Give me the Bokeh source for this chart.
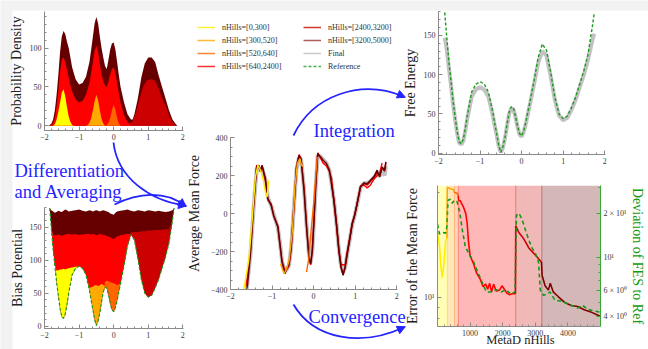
import numpy as np
from bokeh.plotting import figure
from bokeh.models import (Range1d, Legend, LegendItem, BoxAnnotation, Span,
                          Label, Arrow, NormalHead, LogAxis, LogScale, FixedTicker,
                          SingleIntervalTicker)
from bokeh.embed import file_html
from bokeh.resources import INLINE

FONT = "Liberation Serif"
BLUE = "#2424ff"

# ---------------- data ----------------
interval_edges = [0, 300, 520, 640, 2400, 3200, 5000]
interval_labels = ["nHills=[0,300]", "nHills=[300,520]", "nHills=[520,640]",
                   "nHills=[640,2400]", "nHills=[2400,3200]", "nHills=[3200,5000]"]
series_colors = ["#ffee00", "#ffaa00", "#ff6600", "#ff0000", "#cc0000", "#660000"]

# probability density layers (cumulative tops)
pd_maroon_x = [-1.9, -1.85, -1.8, -1.75, -1.7, -1.65, -1.6, -1.55, -1.5, -1.45, -1.4, -1.35, -1.3, -1.25,
               -1.2, -1.1, -1.0, -0.9, -0.8, -0.7, -0.65, -0.6, -0.55, -0.5, -0.45, -0.4, -0.35, -0.3,
               -0.25, -0.2, -0.15, -0.1, -0.05, 0.0, 0.05, 0.1, 0.15, 0.2, 0.3, 0.4, 0.5, 0.55, 0.6,
               0.7, 0.8, 0.9, 1.0, 1.1, 1.2, 1.3, 1.4, 1.5, 1.6, 1.7, 1.8, 1.85]
pd_maroon = [0, 1, 3, 8, 20, 40, 65, 95, 115, 122, 118, 108, 100, 88,
             75, 60, 53, 55, 63, 82, 98, 115, 132, 140, 132, 115, 100, 88,
             77, 73, 85, 98, 106, 107, 98, 82, 65, 50, 30, 15, 8, 8, 15,
             35, 62, 80, 88, 88, 82, 65, 50, 35, 20, 8, 2, 0]
pd_red_x = [-1.85, -1.8, -1.75, -1.7, -1.65, -1.6, -1.55, -1.5, -1.45, -1.4, -1.35, -1.3, -1.25, -1.2,
            -1.1, -1.0, -0.9, -0.8, -0.7, -0.65, -0.6, -0.55, -0.5, -0.45, -0.4, -0.35, -0.3, -0.25,
            -0.2, -0.15, -0.1, -0.05, 0.0, 0.05, 0.1, 0.15, 0.2, 0.3, 0.4, 0.5, 0.55]
pd_red = [0, 1, 4, 10, 25, 45, 70, 85, 88, 82, 72, 62, 52, 44,
          34, 30, 32, 40, 55, 68, 82, 97, 103, 95, 80, 66, 57, 52,
          50, 57, 66, 73, 75, 68, 55, 42, 30, 14, 5, 1, 0]
pd_darkred_x = [0.35, 0.45, 0.55, 0.65, 0.75, 0.85, 0.95, 1.0, 1.1, 1.2, 1.3, 1.4, 1.5, 1.6, 1.7, 1.8]
pd_darkred = [0, 2, 6, 18, 35, 50, 58, 59, 60, 58, 48, 36, 26, 14, 5, 0]
pd_orangered_x = [-0.25, -0.2, -0.15, -0.1, -0.05, 0.0, 0.05, 0.1, 0.15, 0.2]
pd_orangered = [0, 1, 4, 10, 20, 27, 21, 10, 3, 0]
pd_orange_x = [-0.8, -0.75, -0.7, -0.65, -0.6, -0.55, -0.5, -0.45, -0.4, -0.35, -0.3, -0.25]
pd_orange = [0, 1, 4, 10, 20, 32, 40, 33, 20, 9, 3, 0]
pd_yellow_x = [-1.75, -1.7, -1.65, -1.6, -1.55, -1.5, -1.45, -1.4, -1.35, -1.3, -1.25, -1.2, -1.15]
pd_yellow = [0, 2, 8, 18, 30, 43, 47, 38, 24, 12, 5, 1, 0]

# free energy (reference and final) on a common grid
fes_x = [-1.85, -1.8, -1.75, -1.7, -1.65, -1.6, -1.55, -1.5, -1.45, -1.4, -1.35, -1.3, -1.2, -1.1, -1.0,
         -0.9, -0.8, -0.7, -0.65, -0.6, -0.55, -0.5, -0.45, -0.4, -0.35, -0.3, -0.25, -0.2, -0.15,
         -0.1, -0.05, 0.0, 0.05, 0.1, 0.2, 0.3, 0.4, 0.5, 0.6, 0.7, 0.8, 0.9, 1.0, 1.1, 1.2, 1.3,
         1.4, 1.5, 1.6, 1.7, 1.75]
fes_ref = [179, 147, 116, 92, 67, 46, 27, 14, 12, 18, 33, 50, 78, 88, 91,
           88, 78, 54, 39, 25, 10, 1, 8, 20, 37, 52, 59, 58, 48,
           35, 25, 22, 28, 39, 65, 92, 122, 139, 131, 103, 71, 50, 44, 47, 58, 71,
           88, 105, 126, 160, 179]
fes_final = [147, 132, 108, 87, 63, 43, 25, 13, 11, 16, 30, 46, 72, 81, 84,
             81, 72, 50, 36, 23, 9, 1, 7, 19, 35, 50, 57, 56, 47,
             34, 24, 21, 27, 37, 62, 88, 115, 130, 124, 98, 68, 48, 42, 45, 55, 68,
             84, 100, 119, 143, 152]

# bias potential layer tops on fes_x (0 = layer absent)
bias_maroon = [175, 176, 174, 172, 173, 175, 174, 173, 175, 177, 176, 174, 175, 176, 177,
               175, 174, 176, 175, 174, 175, 176, 175, 174, 175, 176, 175, 174, 173,
               171, 170, 169, 172, 174, 175, 176, 177, 175, 174, 176, 175, 174, 176, 175, 174, 175,
               174, 173, 174, 176, 178]
bias_darkred = [0, 0, 0, 0, 0, 0, 0, 0, 0, 0, 0, 0, 0, 0, 0,
                0, 0, 0, 0, 0, 0, 0, 0, 0, 0, 0, 0, 0, 0,
                0, 0, 0, 0, 0, 0, 0, 0, 142, 143, 143, 144, 144, 145, 145, 146, 146,
                146, 147, 147, 148, 150]
bias_red = [140, 140, 139, 138, 138, 139, 138, 137, 138, 139, 140, 140, 139, 140, 138,
            139, 140, 140, 139, 140, 139, 138, 139, 140, 139, 138, 138, 137, 136,
            135, 133, 132, 134, 136, 138, 139, 140, 140, 0, 0, 0, 0, 0, 0, 0, 0,
            0, 0, 0, 0, 0]
bias_orangered = [0, 0, 0, 0, 0, 0, 0, 0, 0, 0, 0, 0, 0, 0, 0,
                  0, 0, 0, 0, 0, 0, 0, 0, 0, 0, 0, 67, 69, 68,
                  67, 66, 65, 64, 62, 0, 0, 0, 0, 0, 0, 0, 0, 0, 0, 0, 0,
                  0, 0, 0, 0, 0]
bias_orange = [0, 0, 0, 0, 0, 0, 0, 0, 0, 0, 0, 0, 0, 0, 0,
               0, 0, 58, 59, 60, 62, 62, 61, 62, 64, 63, 0, 0, 0,
               0, 0, 0, 0, 0, 0, 0, 0, 0, 0, 0, 0, 0, 0, 0, 0, 0,
               0, 0, 0, 0, 0]
bias_yellow = [0, 0, 82, 83, 84, 85, 86, 86, 87, 86, 87, 88, 89, 90, 91,
               0, 0, 0, 0, 0, 0, 0, 0, 0, 0, 0, 0, 0, 0,
               0, 0, 0, 0, 0, 0, 0, 0, 0, 0, 0, 0, 0, 0, 0, 0, 0,
               0, 0, 0, 0, 0]

# average mean force
mf_x = [-1.62, -1.52, -1.44, -1.37, -1.32, -1.28, -1.24, -1.16, -1.10, -1.02,
        -0.96, -0.86, -0.80, -0.76, -0.69, -0.63, -0.59, -0.54, -0.47, -0.41,
        -0.35, -0.30, -0.23, -0.17, -0.11, -0.07, -0.03, 0.01, 0.05, 0.10,
        0.17, 0.23, 0.31, 0.38, 0.43, 0.49, 0.55, 0.61, 0.66, 0.71,
        0.76, 0.81, 0.88, 0.93, 0.99, 1.05, 1.13, 1.21, 1.29, 1.37,
        1.45, 1.53, 1.59, 1.65, 1.71, 1.74]
mf_maroon = [-440, -212, 52, 245, 254, 219, 254, 184, 78, 43,
             -10, -71, -177, -256, -317, -282, -265, -177, 52, 245,
             306, 280, 122, -71, -230, -265, -195, -36, 140, 315,
             298, 280, 263, 228, 157, 69, -54, -195, -282, -326,
             -282, -212, -124, -54, -10, 52, 140, 161, 157, 175,
             193, 228, 193, 245, 228, 272]
mf_final = [-420, -220, 40, 235, 245, 225, 240, 180, 85, 40,
            -5, -75, -170, -250, -305, -290, -270, -180, 45, 235,
            295, 285, 130, -60, -220, -260, -200, -40, 135, 305,
            300, 285, 265, 230, 160, 70, -50, -190, -275, -310,
            -285, -215, -125, -60, -10, 50, 135, 160, 160, 170,
            190, 205, 195, 225, 200, 250]
mf_red = [-380, -200, 60, 255, 240, 230, 250, 170, 70, 50,
          -15, -65, -185, -250, -300, -290, -275, -190, 40, 250,
          310, 290, 135, -60, -240, -270, -190, -30, 150, 320,
          290, 265, 250, 220, 190, 60, -60, -200, -270, -270,
          -270, -200, -115, -50, -5, 55, 145, 150, 135, 150,
          180, 200, 215, 265]
mf_darkred = [160, 72, -50, -190, -280, -320, -280, -210, -120, -55, -8,
              55, 142, 158, 150, 170, 188, 215, 200, 240, 222, 265]
mf_yellow_x = [-1.68, -1.56, -1.48, -1.40, -1.34, -1.28, -1.21, -1.16, -1.12, -1.08]
mf_yellow = [-400, -247, -36, 193, 254, 228, 175, 113, 87, 175]
mf_orange_x = [-0.80, -0.71, -0.65, -0.59, -0.51, -0.45, -0.39, -0.33, -0.29, -0.25]
mf_orange = [-265, -317, -291, -247, -89, 140, 263, 289, 254, 250]
mf_orangered_x = [-0.17, -0.11, -0.06, 0.01, 0.05, 0.09]
mf_orangered = [-309, -230, -89, 69, 193, 298]

# error of the mean force (left log axis) and deviation to reference (right log axis)
err_x = [0, 60, 100, 150, 200, 250, 290,
         300, 400, 480, 515,
         530, 600, 635,
         650, 700, 800, 870, 910, 950, 1000, 1100, 1200, 1300, 1400, 1480, 1540, 1600, 1660,
         1720, 1800, 1900, 1980, 2050, 2120, 2200, 2300, 2390,
         2400, 2500, 2600, 2700, 2800, 2900, 3000, 3100, 3190,
         3210, 3300, 3400, 3460, 3550, 3700, 3900, 4100, 4300, 4500, 4700, 5000]
err_y = [19.5, 17.2, 14.0, 12.3, 14.4, 18.2, 18.7,
         31.6, 31.2, 31.0, 30.2,
         30.0, 29.8, 29.0,
         27.6, 27.5, 25.7, 24.0, 21.7, 18.0, 15.5, 14.3, 12.9, 12.2, 11.2, 11.5, 10.9, 11.6, 10.6,
         11.5, 10.7, 10.8, 11.3, 10.9, 10.5, 10.3, 10.4, 10.4,
         21.2, 19.7, 18.9, 17.9, 16.8, 16.2, 15.6, 15.0, 14.5,
         12.6, 11.3, 10.8, 11.6, 10.6, 10.1, 9.5, 9.2, 9.1, 8.8, 8.6, 8.2]
dev_x = [0, 60, 150, 250, 290, 320, 400, 450, 520, 600, 680, 760, 850, 950, 1100, 1200, 1350,
         1500, 1650, 1800, 1950, 2100, 2250, 2380, 2420, 2500, 2600, 2700, 2800, 2900, 3000,
         3100, 3150, 3250, 3350, 3450, 3600, 3800, 4000, 4300, 4450, 4600, 4800, 5000]
dev_y = [16.9, 14.5, 14.9, 14.7, 16.4, 24.5, 24.9, 23.4, 24.5, 24.0, 20.5, 15.5, 12.0, 10.8, 9.5,
         8.4, 7.0, 5.9, 5.9, 6.1, 5.9, 6.1, 5.7, 5.9, 19.4, 20.0, 18.0, 15.4, 13.2, 11.7, 10.8,
         9.4, 6.1, 5.6, 5.7, 5.9, 5.2, 5.1, 4.9, 4.6, 4.8, 4.5, 4.4, 4.3]


# ---------------- helpers ----------------
def place(p, x, y):
    p.styles = {"position": "absolute", "left": f"{x}px", "top": f"{y}px"}


def make_panel(box, frame, xr, yr, **kw):
    fx0, fy0, fx1, fy1 = box
    x0, y0, x1, y1 = frame
    p = figure(width=fx1 - fx0, height=fy1 - fy0, x_range=xr, y_range=yr,
               min_border_left=x0 - fx0, min_border_right=fx1 - x1,
               min_border_top=y0 - fy0, min_border_bottom=fy1 - y1,
               output_backend="svg", toolbar_location=None,
               background_fill_color=None, border_fill_color=None,
               outline_line_color=None, **kw)
    p.grid.visible = False
    place(p, fx0, fy0)
    return p


def style_axis(ax, line="#8a8a8a", label="#3a3a3a", standoff=3):
    ax.axis_line_color = line
    ax.major_tick_line_color = line
    ax.minor_tick_line_color = line
    ax.major_tick_in = 4
    ax.major_tick_out = 0
    ax.minor_tick_in = 2
    ax.minor_tick_out = 0
    ax.major_label_text_font = FONT
    ax.major_label_text_font_size = "8px"
    ax.major_label_text_color = label
    ax.major_label_standoff = 3
    ax.axis_label_text_font = FONT
    ax.axis_label_text_font_size = "14px"
    ax.axis_label_text_font_style = "normal"
    ax.axis_label_text_color = "#222222"
    ax.axis_label_standoff = standoff


XNEG = {-2: "\u22122", -1: "\u22121"}

# ---------------- background canvas (texts & arrows) ----------------
bg = figure(width=648, height=349, x_range=Range1d(0, 648), y_range=Range1d(349, 0),
            output_backend="svg", toolbar_location=None, x_axis_location=None,
            y_axis_location=None, min_border=0, outline_line_color=None,
            background_fill_color="#f2f2f2", border_fill_color="#f2f2f2")
bg.grid.visible = False
place(bg, 0, 0)
bg.quad(left=12, right=648, top=10, bottom=349, fill_color="white", line_color=None)

arrows = [  # (start, control1, control2, end)
    ((113, 142), (117, 178), (150, 200), (184, 205)),
    ((114, 204), (138, 192), (165, 190), (184, 205)),
    ((293, 135), (312, 95), (360, 78), (403, 96)),
    ((293, 304), (314, 340), (362, 346), (403, 327)),
]
for (s, c0, c1, e) in arrows:
    bg.bezier(x0=s[0], y0=s[1], x1=e[0], y1=e[1], cx0=c0[0], cy0=c0[1], cx1=c1[0], cy1=c1[1],
              line_color=BLUE, line_width=1.8)
    dx, dy = e[0] - c1[0], e[1] - c1[1]
    n = (dx * dx + dy * dy) ** 0.5
    bg.add_layout(Arrow(end=NormalHead(size=8, fill_color=BLUE, line_color=BLUE),
                        x_start=e[0] - 4 * dx / n, y_start=e[1] - 4 * dy / n,
                        x_end=e[0] + 2 * dx / n, y_end=e[1] + 2 * dy / n,
                        line_color=BLUE, line_width=1.5))

for txt, x, y in [("Differentiation", 14, 170), ("and Averaging", 14, 191),
                  ("Integration", 313, 130), ("Convergence", 308, 316)]:
    bg.add_layout(Label(x=x, y=y, text=txt, text_font=FONT, text_font_size="18.5px",
                        text_color=BLUE, text_baseline="alphabetic"))
bg.add_layout(Label(x=520, y=332, text="MetaD nHills", text_font=FONT, text_font_size="12.5px",
                    text_color="#222222", text_align="center", text_baseline="top"))

# ---------------- panel 1: probability density ----------------
p1 = make_panel((0, 0, 196, 148), (44, 11, 183, 130), Range1d(-2, 2.02), Range1d(-6, 147))
p1.varea(x=pd_maroon_x, y1=0, y2=pd_maroon, fill_color=series_colors[5])
p1.varea(x=pd_darkred_x, y1=0, y2=pd_darkred, fill_color=series_colors[4])
p1.varea(x=pd_red_x, y1=0, y2=pd_red, fill_color=series_colors[3])
p1.varea(x=pd_orangered_x, y1=0, y2=pd_orangered, fill_color=series_colors[2])
p1.varea(x=pd_orange_x, y1=0, y2=pd_orange, fill_color=series_colors[1])
p1.varea(x=pd_yellow_x, y1=0, y2=pd_yellow, fill_color="#ffff00")
p1.xaxis.ticker = SingleIntervalTicker(interval=1, num_minor_ticks=5)
p1.yaxis.ticker = SingleIntervalTicker(interval=50, num_minor_ticks=5)
p1.xaxis.major_label_overrides = XNEG
p1.yaxis.axis_label = "Probability Density"
style_axis(p1.xaxis[0])
style_axis(p1.yaxis[0], standoff=3)

# ---------------- panel 2: bias potential ----------------
fr = np.array(fes_ref, dtype=float)
p2 = make_panel((0, 195, 196, 349), (44, 207, 183, 328), Range1d(-2, 2.02), Range1d(-3.5, 180))
for layer, col in [(bias_maroon, series_colors[5]), (bias_darkred, series_colors[4]),
                   (bias_red, series_colors[3]), (bias_orangered, series_colors[2]),
                   (bias_orange, series_colors[1]), (bias_yellow, "#ffff00")]:
    top = np.maximum(np.array(layer, dtype=float), fr)
    p2.varea(x=fes_x, y1=fes_ref, y2=top, fill_color=col)
p2.line(fes_x, fes_ref, line_color="#1a9a1a", line_width=1.2, line_dash="3 2")
p2.xaxis.ticker = SingleIntervalTicker(interval=1, num_minor_ticks=5)
p2.yaxis.ticker = SingleIntervalTicker(interval=50, num_minor_ticks=5)
p2.xaxis.major_label_overrides = XNEG
p2.yaxis.axis_label = "Bias Potential"
style_axis(p2.xaxis[0])
style_axis(p2.yaxis[0], standoff=2)

# ---------------- panel 3: average mean force ----------------
p3 = make_panel((180, 125, 405, 305), (230, 137, 397, 289), Range1d(-2, 2.02), Range1d(-400, 400))
p3.line(mf_x, mf_final, line_color="#bbbbbb", line_width=4, line_alpha=0.9)
p3.line(mf_x[:len(mf_red)], mf_red, line_color=series_colors[3], line_width=1.4)
p3.line(mf_x[34:], mf_darkred, line_color=series_colors[4], line_width=1.4)
p3.line(mf_x, mf_maroon, line_color=series_colors[5], line_width=1.5)
p3.line(mf_yellow_x, mf_yellow, line_color=series_colors[0], line_width=1.4)
p3.line(mf_orange_x, mf_orange, line_color=series_colors[1], line_width=1.4)
p3.line(mf_orangered_x, mf_orangered, line_color=series_colors[2], line_width=1.4)
p3.xaxis.ticker = SingleIntervalTicker(interval=1, num_minor_ticks=5)
p3.yaxis.ticker = SingleIntervalTicker(interval=200, num_minor_ticks=4)
p3.xaxis.major_label_overrides = XNEG
p3.yaxis.major_label_overrides = {-400: "\u2212400", -200: "\u2212200"}
p3.yaxis.axis_label = "Average Mean Force"
style_axis(p3.xaxis[0])
style_axis(p3.yaxis[0], standoff=6)

# ---------------- panel 4: free energy ----------------
p4 = make_panel((395, 0, 615, 170), (438, 11, 605, 154), Range1d(-2, 2.02), Range1d(-1.7, 180.3))
p4.line(fes_x, fes_final, line_color="#bbbbbb", line_width=4, line_alpha=0.9)
p4.line(fes_x, fes_ref, line_color="#1a9a1a", line_width=1.4, line_dash="3 2")
p4.xaxis.ticker = SingleIntervalTicker(interval=1, num_minor_ticks=5)
p4.yaxis.ticker = SingleIntervalTicker(interval=50, num_minor_ticks=5)
p4.xaxis.major_label_overrides = XNEG
p4.yaxis.axis_label = "Free Energy"
style_axis(p4.xaxis[0])
style_axis(p4.yaxis[0], standoff=3)

# ---------------- panel 5: error of the mean force ----------------
p5 = make_panel((395, 172, 648, 349), (437, 185, 604, 326), Range1d(0, 5000), Range1d(7.38, 32.3),
                y_axis_type="log")
p5.extra_y_ranges = {"dev": Range1d(3.45, 30.8)}
p5.extra_y_scales = {"dev": LogScale()}
for i in range(6):
    a, b = interval_edges[i], interval_edges[i + 1]
    p5.add_layout(BoxAnnotation(left=a, right=b, fill_color=series_colors[i] if i else "#ffff00",
                                fill_alpha=0.28, line_color=None, level="underlay"))
for i in range(1, 6):
    p5.add_layout(Span(location=interval_edges[i], dimension="height",
                       line_color=series_colors[i], line_alpha=0.35, line_width=1))
ex = np.array(err_x)
ey = np.array(err_y)
prev = None
for i in range(6):
    a, b = interval_edges[i], interval_edges[i + 1]
    idx = np.where((ex >= a) & ((ex < b) if i < 5 else (ex <= b)))[0]
    if prev is not None:
        idx = np.concatenate([[prev], idx])
    col = "#800000" if i == 5 else series_colors[i]
    p5.line(ex[idx], ey[idx], line_color=col, line_width=1.6)
    prev = idx[-1]
p5.line(dev_x, dev_y, y_range_name="dev", line_color="#119a11", line_width=1.6, line_dash="4 3")

p5.xaxis.ticker = FixedTicker(ticks=[1000, 2000, 3000, 4000],
                              minor_ticks=list(range(200, 5000, 200)))
lax = p5.left[0]
lax.ticker = FixedTicker(ticks=[10], minor_ticks=[8, 9, 20, 30])
lax.major_label_overrides = {10: "10\u00b9"}
lax.axis_label = "Error of the Mean Force"
style_axis(p5.xaxis[0])
style_axis(lax, standoff=1)
rax = LogAxis(y_range_name="dev",
              ticker=FixedTicker(ticks=[4, 6, 10, 20], minor_ticks=[5, 7, 8, 9, 30]),
              major_label_overrides={4: "4 \u00d7 10\u2070", 6: "6 \u00d7 10\u2070",
                                     10: "10\u00b9", 20: "2 \u00d7 10\u00b9"},
              axis_label="Deviation of FES to Ref")
style_axis(rax, line="#33aa33", standoff=0)
rax.axis_label_text_color = "#119a11"
p5.add_layout(rax, "right")


# ---------------- legends ----------------
def legend_fig(box, spec):
    fx0, fy0, fx1, fy1 = box
    f = figure(width=fx1 - fx0, height=fy1 - fy0, x_range=Range1d(0, 1), y_range=Range1d(0, 1),
               x_axis_location=None, y_axis_location=None, min_border=0,
               outline_line_color=None, background_fill_color=None, border_fill_color=None,
               toolbar_location=None, output_backend="svg")
    f.grid.visible = False
    place(f, fx0, fy0)
    items = []
    for label, color, dash, width in spec:
        r = f.line(x=np.array([np.nan]), y=np.array([np.nan]), line_color=color,
                   line_width=width, line_dash=dash, line_alpha=0.8)
        items.append(LegendItem(label=label, renderers=[r]))
    leg = Legend(items=items, location="top_left", margin=0, padding=0, spacing=3,
                 glyph_width=18, glyph_height=10, label_height=10, label_standoff=7,
                 label_text_font=FONT, label_text_font_size="8px", label_text_color="#333333",
                 border_line_color=None, background_fill_alpha=0)
    f.add_layout(leg)
    return f


leg_a = legend_fig((197, 22, 300, 80),
                   [(interval_labels[i], series_colors[i], "solid", 1.5) for i in range(4)])
leg_b = legend_fig((303, 22, 400, 80),
                   [(interval_labels[4], series_colors[4], "solid", 1.5),
                    (interval_labels[5], "#993333", "solid", 1.5),
                    ("Final", "#bbbbbb", "solid", 1.5),
                    ("Reference", "#1a9a1a", "3 2", 1.5)])

roots = [bg, p1, p2, p3, p4, p5, leg_a, leg_b]
open("out.html", "w").write(file_html(roots, INLINE))
